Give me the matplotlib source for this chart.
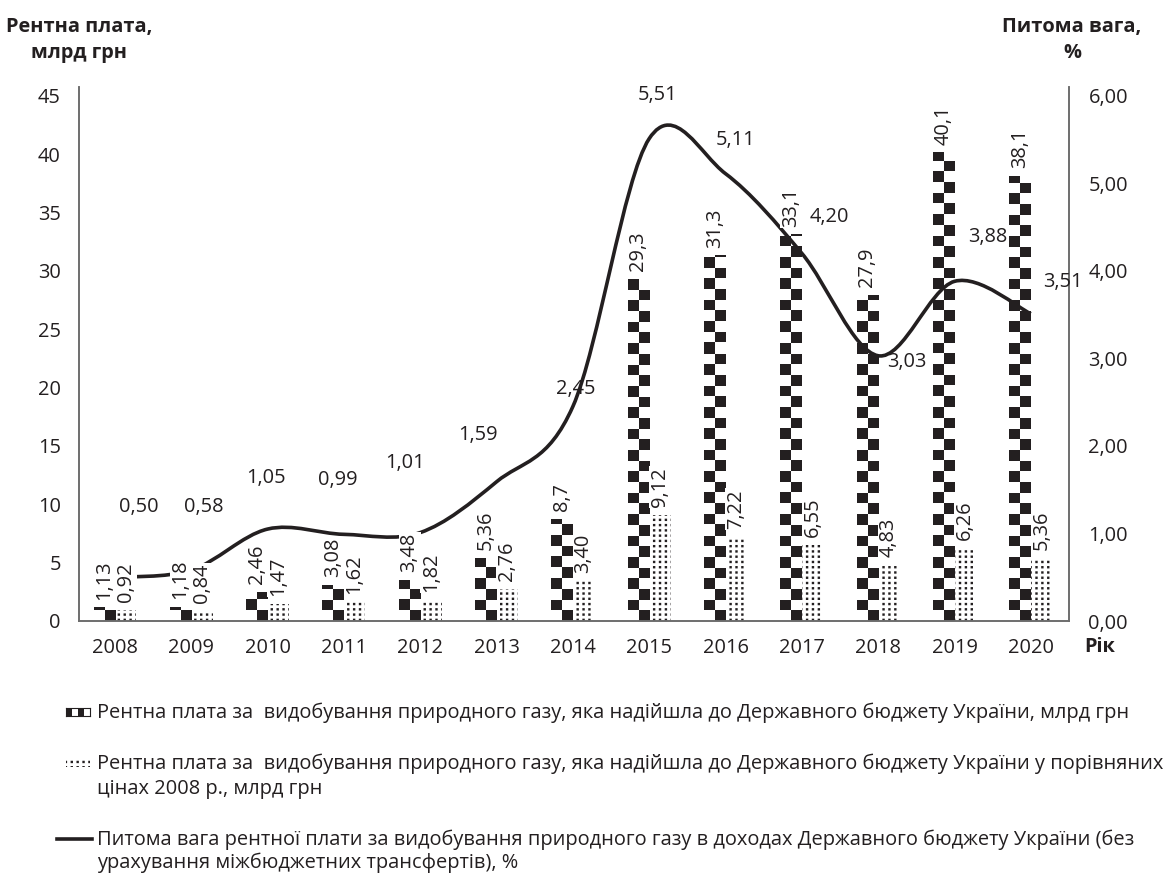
import warnings
import numpy as np
import matplotlib
matplotlib.use("Agg")
import matplotlib.pyplot as plt
import matplotlib.hatch as mhatch
from matplotlib.path import Path
from matplotlib.patches import PathPatch, Rectangle
from matplotlib.lines import Line2D
from matplotlib.colors import ListedColormap
from matplotlib.ticker import FuncFormatter

warnings.filterwarnings("ignore", message="hatch must consist")

# Data
years = ["2008", "2009", "2010", "2011", "2012", "2013", "2014",
         "2015", "2016", "2017", "2018", "2019", "2020"]
rent_nominal = [1.13, 1.18, 2.46, 3.08, 3.48, 5.36, 8.7, 29.3, 31.3, 33.1, 27.9, 40.1, 38.1]
rent_real = [0.92, 0.84, 1.47, 1.62, 1.82, 2.76, 3.40, 9.12, 7.22, 6.55, 4.83, 6.26, 5.36]
share = [0.50, 0.58, 1.05, 0.99, 1.01, 1.59, 2.45, 5.51, 5.11, 4.20, 3.03, 3.88, 3.51]

# label offsets for the share values (pixels)
share_label_dx = [24, 13, -2, -6, -15, -19, 3, 8, 10, 28, 29, 33, 32]
share_label_dy = [70, 63, 51, 54, 70, 47, 18, 44, 34, 36, -6, 44, 32]

legend_texts = [
    "Рентна плата за  видобування природного газу, яка надійшла до Державного бюджету України, млрд грн",
    "Рентна плата за  видобування природного газу, яка надійшла до Державного бюджету України у порівняних\nцінах 2008 р., млрд грн",
    "Питома вага рентної плати за видобування природного газу в доходах Державного бюджету України (без\nурахування міжбюджетних трансфертів), %",
]

INK = "#231f20"
W, H = 1171, 874


# -------------------------------
# fine dot hatch ('d') for the real-price bars
# -------------------------------
class DotHatch(mhatch.HatchPatternBase):
    def __init__(self, hatch, density):
        self.cols, self.rows = (17, 19) if "d" in hatch else (0, 0)
        self.num_vertices = self.cols * self.rows * 5

    def set_vertices_and_codes(self, vertices, codes):
        d = 0.024
        sq = np.array([[0, 0], [d, 0], [d, d], [0, d], [0, 0]])
        cells = [(i, j) for j in range(self.rows) for i in range(self.cols)]
        vertices[:] = np.concatenate([sq + [i / self.cols, j / self.rows] for i, j in cells])
        codes[:] = np.tile([Path.MOVETO, Path.LINETO, Path.LINETO, Path.LINETO, Path.CLOSEPOLY], len(cells))


mhatch._hatch_types.append(DotHatch)
plt.rcParams["hatch.linewidth"] = 0.0
plt.rcParams["font.family"] = ["Open Sans", "DejaVu Sans"]
plt.rcParams["text.color"] = INK

FS = 14.4
checker_cmap = ListedColormap(["white", INK])

fig = plt.figure(figsize=(W / 100, H / 100), dpi=100)
ax = fig.add_axes([79 / W, 1 - 621 / H, (1069 - 79) / W, (621 - 87) / H])
ax2 = ax.twinx()

x = np.arange(len(years))
bw = 0.28
ax.set_xlim(-0.47, 12.5)
ax.set_ylim(0, 45.75)

bars1 = ax.bar(x - bw / 2, rent_nominal, bw, color="white", linewidth=0, zorder=2)
bars2 = ax.bar(x + bw / 2, rent_real, bw, color="white", edgecolor=INK,
               linewidth=0, hatch="d", zorder=2)

# checkerboard fill: two square cells across each bar (texture sized to the bar)
px_per_y = ax.transData.transform((0, 1))[1] - ax.transData.transform((0, 0))[1]
for b in bars1:
    x0, w, h = b.get_x(), b.get_width(), b.get_height()
    w_px = ax.transData.transform((x0 + w, 0))[0] - ax.transData.transform((x0, 0))[0]
    h_px = h * px_per_y
    cell = w_px / 2
    nx, ny = max(int(round(w_px * 3)), 1), max(int(round(h_px * 3)), 1)
    xx = (np.arange(nx) + 0.5) * w_px / nx
    yy = (np.arange(ny) + 0.5) * h_px / ny
    tex = ((yy // cell)[:, None] + (xx // cell)[None, :]) % 2
    ax.imshow(tex, cmap=checker_cmap, vmin=0, vmax=1, extent=(x0, x0 + w, 0, h),
              origin="lower", aspect="auto", interpolation="nearest", zorder=2.1)

ax.set_xlim(-0.47, 12.5)
ax.set_ylim(0, 45.75)
ax.set_yticks(range(0, 46, 5))
ax.set_xticks(x)
ax.set_xticklabels(years)
ax2.set_ylim(0, 6.1)
ax2.set_yticks(np.arange(0, 6.01, 1))
ax2.yaxis.set_major_formatter(FuncFormatter(lambda v, p: f"{v:.2f}".replace(".", ",")))

for a in (ax, ax2):
    a.tick_params(length=0, labelsize=FS, colors=INK)
    for s in a.spines.values():
        s.set_color("#6d6d6d")
        s.set_linewidth(1.2)
    a.spines["top"].set_visible(False)
ax.tick_params(axis="y", pad=13)
ax.tick_params(axis="x", pad=12)
ax2.tick_params(axis="y", pad=14)

# smoothed line (bezier through the points)
pts = np.column_stack([x, share]).astype(float)
n = len(pts)
verts = [pts[0]]
codes = [Path.MOVETO]
for i in range(n - 1):
    p0, p1, p2, p3 = pts[max(i - 1, 0)], pts[i], pts[i + 1], pts[min(i + 2, n - 1)]
    verts += [p1 + (p2 - p0) / 6, p2 - (p3 - p1) / 6, p2]
    codes += [Path.CURVE4] * 3
ax2.add_patch(PathPatch(Path(verts, codes), fill=False, lw=2.6, edgecolor=INK,
                        capstyle="butt", zorder=3))

# share labels
for xi, v, dx, dy in zip(x, share, share_label_dx, share_label_dy):
    ax2.annotate(f"{v:.2f}".replace(".", ","), (xi, v), xytext=(dx, dy),
                 textcoords="offset pixels", ha="center", va="center", fontsize=FS)

# bar labels (white box hides the line behind them)
for bars, fmt in ((bars1, lambda v: str(v).replace(".", ",")),
                  (bars2, lambda v: f"{v:.2f}".replace(".", ","))):
    for b in bars:
        ax2.annotate(fmt(b.get_height()), (b.get_x() + b.get_width() / 2, b.get_height()),
                     xycoords=ax.transData, xytext=(0, 8), textcoords="offset pixels",
                     rotation=90, ha="center", va="bottom", fontsize=FS, zorder=4,
                     bbox=dict(boxstyle="square,pad=0.05", fc="white", ec="none"))

# axis titles
fig.text(79 / W, 1 - 40 / H, "Рентна плата,\nмлрд грн", ha="center", va="center",
         fontsize=FS, fontweight="bold", linespacing=1.45)
fig.text(1072 / W, 1 - 40 / H, "Питома вага,\n%", ha="center", va="center",
         fontsize=FS, fontweight="bold", linespacing=1.45)
fig.text(1084 / W, 1 - 647 / H, "Рік", ha="left", va="center",
         fontsize=FS, fontweight="bold")

# legend
hax = fig.add_axes([66 / W, 1 - 716 / H, 24 / W, 8 / H])
hax.imshow([[1, 0, 1, 0]], cmap=checker_cmap, aspect="auto", interpolation="nearest")
hax.set_xticks([])
hax.set_yticks([])
for s in hax.spines.values():
    s.set_linewidth(0.8)
    s.set_color(INK)
fig.add_artist(Rectangle((66 / W, 1 - 767 / H), 24 / W, 9 / H, transform=fig.transFigure,
                         facecolor="white", edgecolor=INK, linewidth=0, hatch="d"))
fig.add_artist(Line2D([57 / W, 92 / W], [1 - 839 / H, 1 - 839 / H], transform=fig.transFigure,
                      color=INK, lw=2.6))
for txt, yc, ls in zip(legend_texts, [712, 763, 839], [1.33, 1.33, 1.12]):
    fig.text(97 / W, 1 - (yc - 9) / H, txt, ha="left", va="top", fontsize=FS, linespacing=ls)

fig.savefig("out.png", dpi=100)
